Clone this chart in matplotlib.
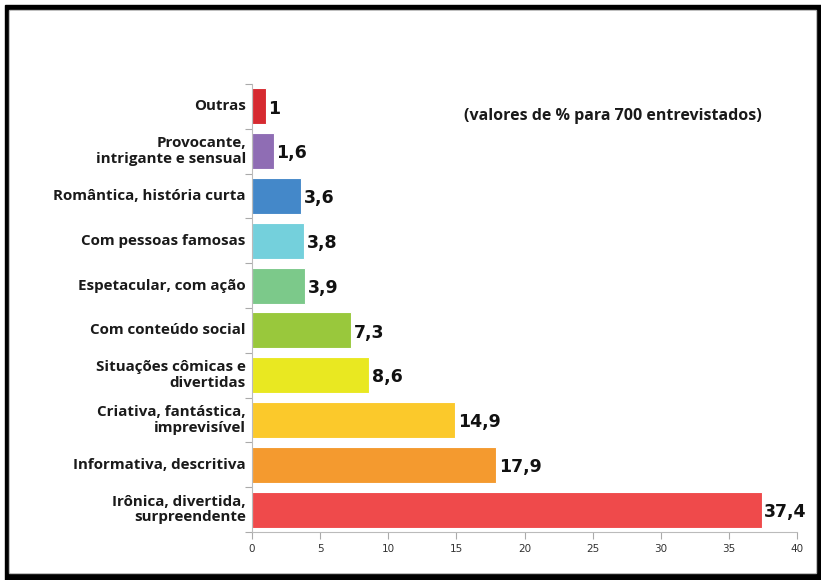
import matplotlib.pyplot as plt
from matplotlib.patches import Rectangle

categorias = ["Outras", "Provocante,\nintrigante e sensual", "Romântica, história curta",
              "Com pessoas famosas", "Espetacular, com ação", "Com conteúdo social",
              "Situações cômicas e\ndivertidas", "Criativa, fantástica,\nimprevisível",
              "Informativa, descritiva", "Irônica, divertida,\nsurpreendente"]
valores = [1, 1.6, 3.6, 3.8, 3.9, 7.3, 8.6, 14.9, 17.9, 37.4]
rotulos = ["1", "1,6", "3,6", "3,8", "3,9", "7,3", "8,6", "14,9", "17,9", "37,4"]
cores = ["#d62a30", "#8f6db4", "#4488c9", "#74d0dc", "#7cc98a", "#99c83c",
         "#e9e821", "#fbc92b", "#f49a2f", "#ef4a4b"]

fig = plt.figure(figsize=(8.21, 5.8), dpi=100)
W, H = 821, 580

# moldura preta
def px(x0, y0, x1, y1, cor):
    fig.patches.append(Rectangle((x0 / W, 1 - y1 / H), (x1 - x0) / W, (y1 - y0) / H,
                                 transform=fig.transFigure, color=cor, zorder=-5))
px(5, 5, 821, 580, "black")
px(9, 10, 816, 573, "#b0b0b0")
px(10, 11, 815, 572, "white")

ax = fig.add_axes([252 / W, (H - 532) / H, (797 - 252) / W, (532 - 84) / H])
ax.patch.set_alpha(0)
pos = list(range(len(categorias)))
barras = ax.barh(pos, valores, height=0.8, color=cores, edgecolor="white", linewidth=0.8)
ax.set_xlim(0, 40)
ax.set_ylim(len(categorias) - 0.5, -0.5)

for b, r in zip(barras, rotulos):
    ax.text(b.get_width() + 0.2, b.get_y() + b.get_height() / 2 + 0.05, r,
            ha="left", va="center", fontsize=12.5, fontweight="bold",
            family="DejaVu Sans", color="#111111")

for p, c in zip(pos, categorias):
    ax.text(-0.45, p, c, ha="right", va="center", fontsize=10.9, fontweight="bold",
            family="Open Sans", color="#1a1a1a", linespacing=1.15)

ax.set_yticks([p - 0.5 for p in pos] + [len(pos) - 0.5])
ax.set_yticklabels([])
ax.set_xticks(range(0, 41, 5))
ax.tick_params(axis="x", colors="#aaaaaa", labelcolor="#333333", labelsize=7.5, length=5)
ax.tick_params(axis="y", colors="#aaaaaa", length=5)
for s in ["top", "right"]:
    ax.spines[s].set_visible(False)
for s in ["left", "bottom"]:
    ax.spines[s].set_color("#bbbbbb")

fig.text(613 / W, 1 - 116 / H, "(valores de % para 700 entrevistados)", ha="center", va="center",
         fontsize=11.5, fontweight="bold", family="Open Sans", color="#1a1a1a")

fig.savefig("out.png", dpi=100)
